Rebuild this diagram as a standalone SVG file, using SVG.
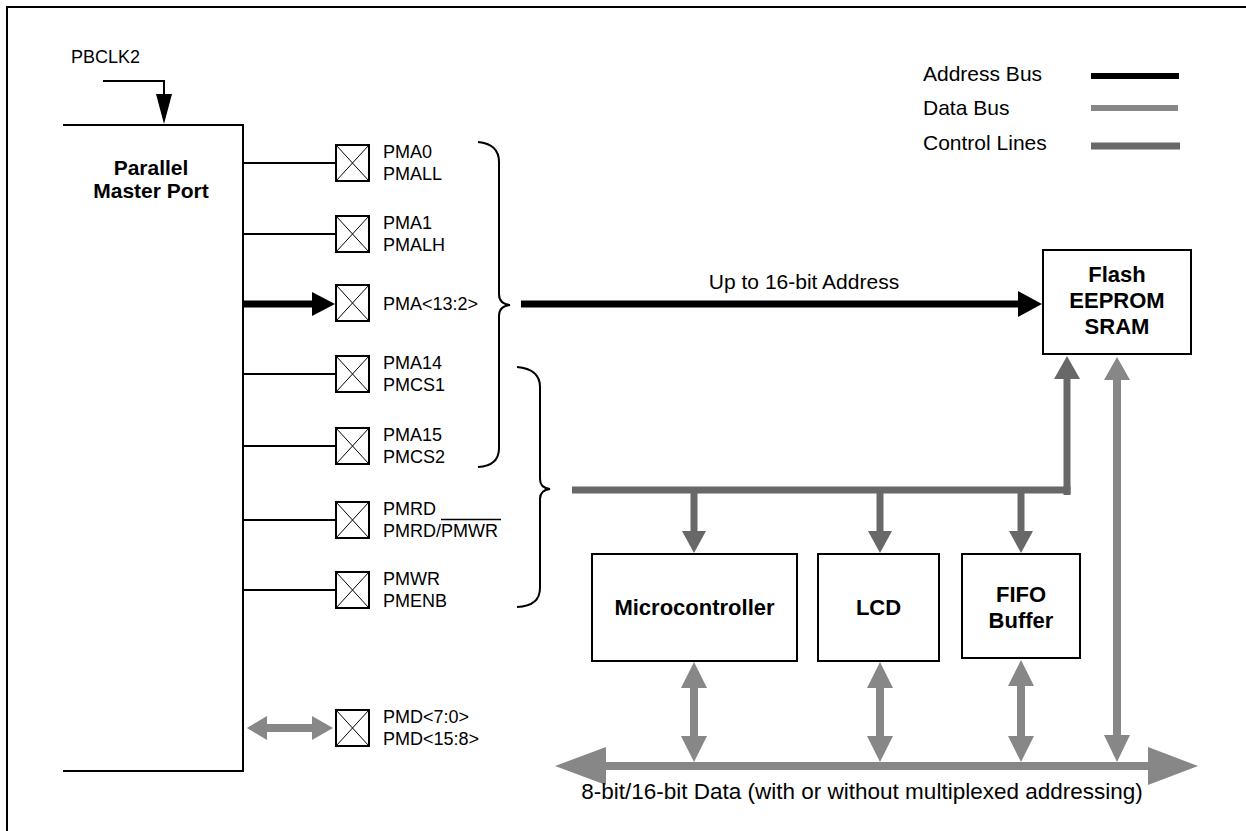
<svg xmlns="http://www.w3.org/2000/svg" xmlns:xlink="http://www.w3.org/1999/xlink" width="1246" height="831" viewBox="0 0 1246 831">
<style>
.t{font-family:"Liberation Sans",Arial,sans-serif;font-size:18px;fill:#000}
.lg{font-size:21px}
.bus{font-size:21px;text-anchor:middle}
.dl{font-size:22.5px}
.b{font-family:"Liberation Sans",Arial,sans-serif;font-weight:bold;font-size:21px;fill:#000;text-anchor:middle}
.bb{font-size:22px}
.box{fill:#fff;stroke:#000;stroke-width:2}
.wire{fill:none;stroke:#000;stroke-width:2}
.addr{stroke:#000;stroke-width:7;fill:none}
.addrh{fill:#000}
.data{stroke:#878787;stroke-width:8;fill:none}
.datah{fill:#878787}
.ctrl{stroke:#686868;stroke-width:7;fill:none}
.ctrlh{fill:#686868}
</style>
<defs>
<g id="pinbox">
<rect x="0" y="0" width="33" height="36" fill="#fff" stroke="#000" stroke-width="2"/>
<path d="M0,0 L33,36 M33,0 L0,36" stroke="#000" stroke-width="1" fill="none"/>
</g>
</defs>
<rect width="1246" height="831" fill="#fff"/>
<path d="M7,831 V7 H1246" class="wire"/>

<g id="legend">
<text class="t lg" x="923" y="81">Address Bus</text>
<text class="t lg" x="923" y="115">Data Bus</text>
<text class="t lg" x="923" y="150">Control Lines</text>
<line x1="1091" y1="76" x2="1179" y2="76" stroke="#000" stroke-width="6"/>
<line x1="1091" y1="108" x2="1178" y2="108" stroke="#878787" stroke-width="6"/>
<line x1="1091" y1="146" x2="1180" y2="146" stroke="#686868" stroke-width="7"/>
</g>

<g id="pmp">
<path d="M63,125 H243 V771 H63" class="wire"/>
<text class="b" x="151" y="175">Parallel</text>
<text class="b" x="151" y="198">Master Port</text>
</g>

<g id="pin-pma0"><use xlink:href="#pinbox" x="336" y="145"/><text class="t" x="383" y="158">PMA0</text><text class="t" x="383" y="180">PMALL</text></g>
<g id="pin-pma1"><use xlink:href="#pinbox" x="336" y="216"/><text class="t" x="383" y="229">PMA1</text><text class="t" x="383" y="251">PMALH</text></g>
<g id="pin-pma13-2"><use xlink:href="#pinbox" x="336" y="285"/><text class="t" x="383" y="310">PMA&lt;13:2&gt;</text></g>
<g id="pin-pma14"><use xlink:href="#pinbox" x="336" y="356"/><text class="t" x="383" y="369">PMA14</text><text class="t" x="383" y="391">PMCS1</text></g>
<g id="pin-pma15"><use xlink:href="#pinbox" x="336" y="428"/><text class="t" x="383" y="441">PMA15</text><text class="t" x="383" y="463">PMCS2</text></g>
<g id="pin-pmrd"><use xlink:href="#pinbox" x="336" y="502"/><text class="t" x="383" y="515">PMRD</text><text class="t" x="383" y="537">PMRD/PMWR</text><line x1="441" y1="519.5" x2="501" y2="519.5" stroke="#000" stroke-width="1.5"/></g>
<g id="pin-pmwr"><use xlink:href="#pinbox" x="336" y="572"/><text class="t" x="383" y="585">PMWR</text><text class="t" x="383" y="607">PMENB</text></g>
<g id="pin-pmd"><use xlink:href="#pinbox" x="336" y="710"/><text class="t" x="383" y="723">PMD&lt;7:0&gt;</text><text class="t" x="383" y="745">PMD&lt;15:8&gt;</text></g>

<g id="flash"><rect class="box" x="1043" y="250" width="148" height="104"/><text class="b bb" x="1117" y="282">Flash</text><text class="b bb" x="1117" y="308">EEPROM</text><text class="b bb" x="1117" y="334">SRAM</text></g>
<g id="micro"><rect class="box" x="592" y="554" width="205" height="107"/><text class="b bb" x="694.5" y="615">Microcontroller</text></g>
<g id="lcd"><rect class="box" x="818" y="554" width="121" height="107"/><text class="b bb" x="878.5" y="615">LCD</text></g>
<g id="fifo"><rect class="box" x="962" y="554" width="118" height="104"/><text class="b bb" x="1021" y="602">FIFO</text><text class="b bb" x="1021" y="628">Buffer</text></g>

<g id="connectors">
<text class="t" x="71" y="63">PBCLK2</text>
<path d="M103,81 H164 V96" class="wire"/>
<polygon class="addrh" points="156,94 172,94 164,124"/>
<line x1="243" y1="163" x2="336" y2="163" class="wire"/>
<line x1="243" y1="234" x2="336" y2="234" class="wire"/>
<line x1="243" y1="374" x2="336" y2="374" class="wire"/>
<line x1="243" y1="446" x2="336" y2="446" class="wire"/>
<line x1="243" y1="520" x2="336" y2="520" class="wire"/>
<line x1="243" y1="590" x2="336" y2="590" class="wire"/>
<line x1="243" y1="304" x2="313" y2="304" class="addr"/>
<polygon class="addrh" points="312,292 312,316 335,304"/>
<line x1="265" y1="728" x2="314" y2="728" class="data" stroke-width="7"/>
<polygon class="datah" points="267,716 267,740 247,728"/>
<polygon class="datah" points="312,716 312,740 333,728"/>
<path class="wire" d="M478,142 Q499,144 499,162 V294 Q499,304 510,305 Q499,306 499,316 V448 Q499,466 478,467"/>
<path class="wire" d="M517,367 Q540,369 540,387 V479 Q540,488 550,489 Q540,490 540,499 V588 Q540,606 517,607"/>
<line x1="521" y1="304" x2="1020" y2="304" class="addr"/>
<polygon class="addrh" points="1018,291 1018,317 1042,304"/>
<text class="t bus" x="804" y="289">Up to 16-bit Address</text>
<path class="ctrl" d="M572,490 H1067 V378"/>
<line x1="1067" y1="486" x2="1067" y2="495" class="ctrl"/>
<polygon class="ctrlh" points="1054,379 1080,379 1067,356"/>
<line x1="694" y1="490" x2="694" y2="532" class="ctrl"/>
<polygon class="ctrlh" points="682,531 706,531 694,553"/>
<line x1="880" y1="490" x2="880" y2="532" class="ctrl"/>
<polygon class="ctrlh" points="868,531 892,531 880,553"/>
<line x1="1021" y1="490" x2="1021" y2="532" class="ctrl"/>
<polygon class="ctrlh" points="1009,531 1033,531 1021,553"/>
<line x1="604" y1="766" x2="1150" y2="766" class="data" stroke-width="9"/>
<polygon class="datah" points="606,747 606,785 555,766"/>
<polygon class="datah" points="1148,747 1148,785 1198,766"/>
<line x1="694" y1="687" x2="694" y2="737" class="data"/>
<polygon class="datah" points="681,688 707,688 694,662"/>
<polygon class="datah" points="681,736 707,736 694,762"/>
<line x1="880" y1="687" x2="880" y2="737" class="data"/>
<polygon class="datah" points="867,688 893,688 880,662"/>
<polygon class="datah" points="867,736 893,736 880,762"/>
<line x1="1021" y1="685" x2="1021" y2="737" class="data"/>
<polygon class="datah" points="1008,686 1034,686 1021,660"/>
<polygon class="datah" points="1008,736 1034,736 1021,762"/>
<line x1="1117" y1="379" x2="1117" y2="736" class="data"/>
<polygon class="datah" points="1104,380 1130,380 1117,357"/>
<polygon class="datah" points="1104,735 1130,735 1117,762"/>
<text class="t bus dl" x="862" y="799">8-bit/16-bit Data (with or without multiplexed addressing)</text>
</g>
</svg>
